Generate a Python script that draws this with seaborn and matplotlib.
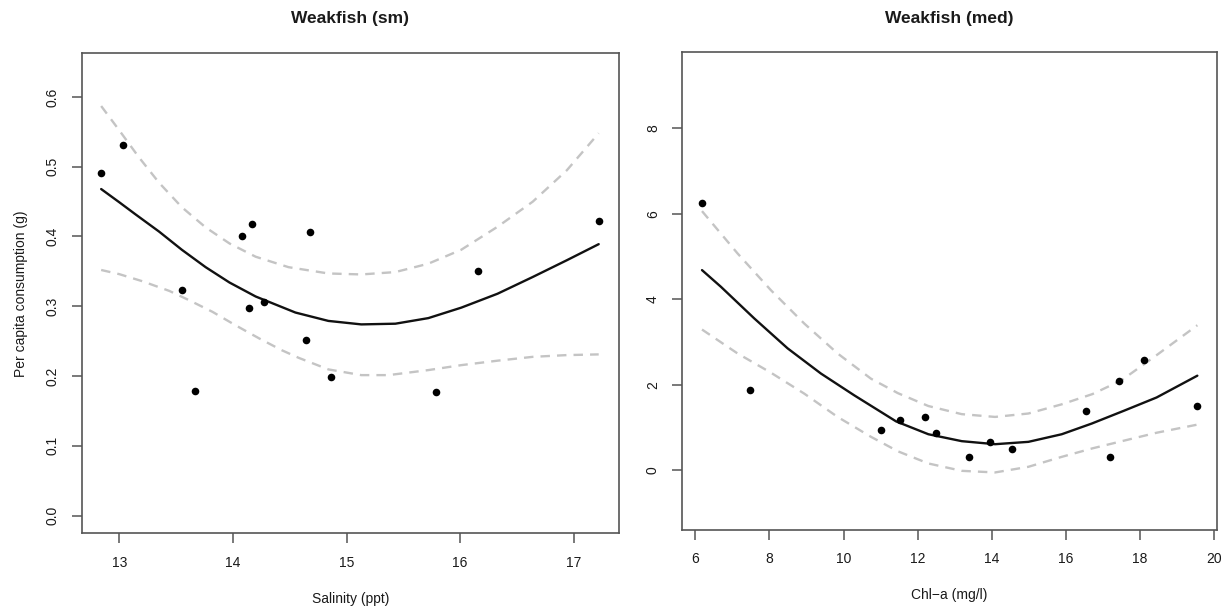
import matplotlib
matplotlib.use("Agg")
import matplotlib.pyplot as plt
import seaborn as sns

# ---------------- data: left panel (Weakfish sm) ----------------
sm_salinity = [12.84, 13.03, 13.55, 13.67, 14.08, 14.14, 14.17, 14.27, 14.64, 14.68, 14.86, 15.79, 16.16, 17.22]
sm_consumption = [0.491, 0.531, 0.324, 0.179, 0.400, 0.298, 0.418, 0.306, 0.252, 0.407, 0.198, 0.177, 0.351, 0.422]

sm_fit_x = [12.84, 13.0, 13.14, 13.35, 13.55, 13.76, 13.97, 14.2, 14.55, 14.84, 15.13, 15.43, 15.72, 16.01, 16.33, 16.64, 16.94, 17.22]
sm_fit_y = [0.468, 0.449, 0.432, 0.407, 0.381, 0.356, 0.334, 0.314, 0.291, 0.279, 0.274, 0.275, 0.283, 0.298, 0.318, 0.342, 0.366, 0.389]

sm_upper_x = [12.84, 13.0, 13.17, 13.35, 13.55, 13.76, 13.97, 14.2, 14.49, 14.84, 15.13, 15.43, 15.72, 16.01, 16.33, 16.64, 16.94, 17.22]
sm_upper_y = [0.587, 0.552, 0.514, 0.477, 0.442, 0.413, 0.390, 0.371, 0.356, 0.347, 0.3456, 0.349, 0.361, 0.381, 0.414, 0.450, 0.495, 0.548]

sm_lower_x = [12.84, 13.0, 13.2, 13.44, 13.61, 13.82, 14.02, 14.23, 14.43, 14.58, 14.84, 15.13, 15.37, 15.72, 16.01, 16.33, 16.64, 16.94, 17.22]
sm_lower_y = [0.352, 0.346, 0.336, 0.322, 0.309, 0.292, 0.273, 0.254, 0.237, 0.226, 0.2095, 0.2013, 0.2013, 0.2085, 0.2156, 0.222, 0.2275, 0.230, 0.231]

# ---------------- data: right panel (Weakfish med) ----------------
med_chla = [6.18, 7.47, 11.01, 11.52, 12.20, 12.49, 13.38, 13.94, 14.56, 16.55, 17.19, 17.44, 18.12, 19.54]
med_consumption = [6.26, 1.87, 0.95, 1.17, 1.245, 0.88, 0.297, 0.655, 0.49, 1.386, 0.311, 2.08, 2.585, 1.51]

med_fit_x = [6.18, 6.69, 7.59, 8.49, 9.39, 10.29, 11.42, 12.29, 13.19, 14.09, 14.99, 15.89, 16.7, 17.57, 18.45, 19.55]
med_fit_y = [4.68, 4.29, 3.55, 2.85, 2.26, 1.75, 1.14, 0.84, 0.678, 0.607, 0.662, 0.84, 1.09, 1.39, 1.70, 2.21]

med_upper_x = [6.18, 7.14, 8.04, 8.94, 9.84, 10.74, 11.47, 12.29, 13.19, 14.09, 14.99, 15.89, 16.72, 17.5, 18.45, 19.55]
med_upper_y = [6.06, 5.07, 4.21, 3.43, 2.73, 2.14, 1.80, 1.50, 1.31, 1.245, 1.325, 1.54, 1.78, 2.10, 2.69, 3.39]

med_lower_x = [6.18, 7.14, 8.04, 8.94, 9.84, 10.74, 11.47, 12.29, 13.19, 14.09, 14.99, 15.89, 16.72, 17.57, 18.45, 19.55]
med_lower_y = [3.29, 2.73, 2.28, 1.79, 1.245, 0.78, 0.44, 0.156, -0.016, -0.054, 0.078, 0.311, 0.51, 0.69, 0.875, 1.065]

sm_xticks = [13, 14, 15, 16, 17]
sm_yticks = [0.0, 0.1, 0.2, 0.3, 0.4, 0.5, 0.6]
sm_yticklabels = ["0.0", "0.1", "0.2", "0.3", "0.4", "0.5", "0.6"]
med_xticks = [6, 8, 10, 12, 14, 16, 18, 20]
med_yticks = [0, 2, 4, 6, 8]

# ---------------- styling ----------------
sns.set_style("white")
plt.rcParams["font.family"] = ["Liberation Sans", "DejaVu Sans"]

AX_COL = "#555555"
TXT_COL = "#1a1a1a"
CI_COL = "#c4c4c4"

fig = plt.figure(figsize=(12.29, 6.11), dpi=100)
ax1 = fig.add_axes([0.0666, 0.1272, 0.4369, 0.7856])
ax2 = fig.add_axes([0.5551, 0.1326, 0.4350, 0.7828])


def draw(ax, px, py, fx, fy, ux, uy, lx, ly):
    sns.lineplot(x=ux, y=uy, ax=ax, color=CI_COL, linewidth=1.7,
                 linestyle=(0, (4, 3)), sort=False, estimator=None)
    sns.lineplot(x=lx, y=ly, ax=ax, color=CI_COL, linewidth=1.7,
                 linestyle=(0, (4, 3)), sort=False, estimator=None)
    sns.lineplot(x=fx, y=fy, ax=ax, color="#111111", linewidth=1.7,
                 sort=False, estimator=None)
    sns.scatterplot(x=px, y=py, ax=ax, color="black", s=30, linewidth=0, zorder=5)
    for sp in ax.spines.values():
        sp.set_visible(True)
        sp.set_color(AX_COL)
        sp.set_linewidth(1.2)
    ax.tick_params(axis="both", which="major", direction="out", length=7,
                   width=1.1, color=AX_COL, labelcolor=TXT_COL, labelsize=10,
                   pad=9, left=True, bottom=True)
    ax.grid(False)


draw(ax1, sm_salinity, sm_consumption, sm_fit_x, sm_fit_y,
     sm_upper_x, sm_upper_y, sm_lower_x, sm_lower_y)
ax1.set_xlim(12.67, 17.397)
ax1.set_ylim(-0.0254, 0.6626)
ax1.set_xticks(sm_xticks)
ax1.set_yticks(sm_yticks)
ax1.set_yticklabels(sm_yticklabels, rotation=90, va="center")
ax1.set_xlabel("Salinity (ppt)", fontsize=10, color=TXT_COL, labelpad=16)
ax1.set_ylabel("Per capita consumption (g)", fontsize=10, color=TXT_COL, labelpad=13)
ax1.set_title("Weakfish (sm)", fontsize=12.5, fontweight="bold", color=TXT_COL, pad=22)

draw(ax2, med_chla, med_consumption, med_fit_x, med_fit_y,
     med_upper_x, med_upper_y, med_lower_x, med_lower_y)
ax2.set_xlim(5.646, 20.076)
ax2.set_ylim(-1.40, 9.79)
ax2.set_xticks(med_xticks)
ax2.set_yticks(med_yticks)
ax2.set_yticklabels([str(v) for v in med_yticks], rotation=90, va="center")
ax2.set_xlabel("Chl\u2212a (mg/l)", fontsize=10, color=TXT_COL, labelpad=16)
ax2.set_ylabel("")
ax2.set_title("Weakfish (med)", fontsize=12.5, fontweight="bold", color=TXT_COL, pad=21)

fig.savefig("out.png", dpi=100, facecolor="white")
